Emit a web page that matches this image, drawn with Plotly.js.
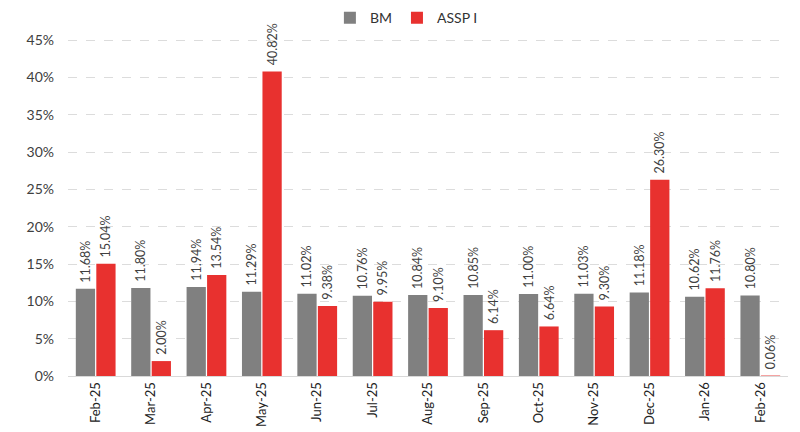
<!DOCTYPE html>
<html><head><meta charset="utf-8">
<script src="https://cdn.plot.ly/plotly-3.0.1.min.js"></script>
<style>body{margin:0;background:#fff}#c{width:800px;height:432px}</style>
</head><body><div id="c"></div>
<script>
const categories = ["Feb-25","Mar-25","Apr-25","May-25","Jun-25","Jul-25","Aug-25","Sep-25","Oct-25","Nov-25","Dec-25","Jan-26","Feb-26"];
const bmValues = [11.68,11.80,11.94,11.29,11.02,10.76,10.84,10.85,11.00,11.03,11.18,10.62,10.80];
const asspValues = [15.04,2.00,13.54,40.82,9.38,9.95,9.10,6.14,6.64,9.30,26.30,11.76,0.06];
const yTicks = [0,5,10,15,20,25,30,35,40,45];

const common = {
  type:'bar', textposition:'outside', textangle:-90, cliponaxis:false,
  constraintext:'none', texttemplate:'\u00a0%{y:.2f}%',
  textfont:{family:'Lato, "Open Sans", sans-serif', size:12.5, color:'#404040'},
  hoverinfo:'skip'
};
const data = [
  Object.assign({}, common, {name:'BM', x:categories, y:bmValues, marker:{color:'#808080'}}),
  Object.assign({}, common, {name:'ASSP I', x:categories, y:asspValues, marker:{color:'#e8312f'}})
];
const layout = {
  width:800, height:432,
  margin:{l:68, r:12, t:38, b:56},
  barmode:'group', bargap:0.26, bargroupgap:0.06,
  paper_bgcolor:'#fff', plot_bgcolor:'#fff',
  font:{family:'Lato, "Open Sans", sans-serif', color:'#404040'},
  showlegend:true,
  legend:{orientation:'h', x:0.47, xanchor:'center', yref:'container', y:0.995, yanchor:'top',
          font:{size:14, color:'#333'}, traceorder:'normal'},
  xaxis:{type:'category', tickangle:-90, tickfont:{size:13, color:'#222'},
         showline:true, linecolor:'#d9d9d9', linewidth:1, ticks:'', showgrid:false},
  yaxis:{range:[0,45.3], tickvals:yTicks, ticktext:yTicks.map(v=>v+'%'),
         tickfont:{size:14, color:'#404040'}, showgrid:true, gridcolor:'#dcdcdc',
         griddash:'dash', zeroline:false, showline:false, ticks:'', ticklabelstandoff:13}
};
Plotly.newPlot('c', data, layout, {displayModeBar:false, staticPlot:true});
</script></body></html>
